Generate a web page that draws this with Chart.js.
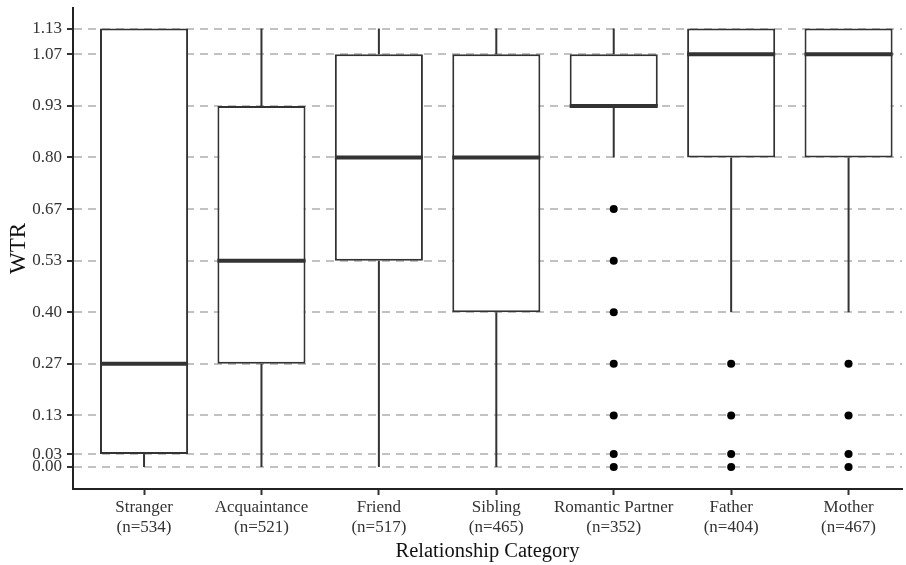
<!DOCTYPE html>
<html>
<head>
<meta charset="utf-8">
<script src="https://cdn.jsdelivr.net/npm/chart.js@4"></script>
<style>
  body { margin: 0; background: #fff; }
  canvas { display: block; }
</style>
</head>
<body>
<canvas id="myChart" width="906" height="565"></canvas>
<script>
const categories = ['Stranger', 'Acquaintance', 'Friend', 'Sibling', 'Romantic Partner', 'Father', 'Mother'];
const counts = [534, 521, 517, 465, 352, 404, 467];

const whiskerLow = [0, 0, 0, 0, 0.8, 0.4, 0.4];
const q1 = [0.0333, 0.2667, 0.5333, 0.4, 0.9333, 0.8, 0.8];
const median = [0.2667, 0.5333, 0.8, 0.8, 0.9333, 1.0667, 1.0667];
const q3 = [1.1333, 0.9333, 1.0667, 1.0667, 1.0667, 1.1333, 1.1333];
const whiskerHigh = [1.1333, 1.1333, 1.1333, 1.1333, 1.1333, 1.1333, 1.1333];

const outliers = [
    [],
    [],
    [],
    [],
    [0, 0.0333, 0.1333, 0.2667, 0.4, 0.5333, 0.6667],
    [0, 0.0333, 0.1333, 0.2667],
    [0, 0.0333, 0.1333, 0.2667]
];

const yTickValues = [0, 0.0333, 0.1333, 0.2667, 0.4, 0.5333, 0.6667, 0.8, 0.9333, 1.0667, 1.1333];
const yTickLabels = ['0.00', '0.03', '0.13', '0.27', '0.40', '0.53', '0.67', '0.80', '0.93', '1.07', '1.13'];

const serif = 'Liberation Serif';
const ink = '#333';

const boxData = categories.map((c, i) => ({x: i, y: [q1[i], q3[i]]}));
const outlierData = [];
outliers.forEach((vals, i) => vals.forEach(v => outlierData.push({x: i, y: v})));

// whiskers under the boxes, medians over them
const boxLines = {
    id: 'boxLines',
    beforeDatasetsDraw(chart) {
        const {ctx, scales: {x, y}} = chart;
        ctx.save();
        ctx.strokeStyle = ink;
        ctx.lineWidth = 2;
        categories.forEach((c, i) => {
            const px = x.getPixelForValue(i);
            ctx.beginPath();
            ctx.moveTo(px, y.getPixelForValue(whiskerLow[i]));
            ctx.lineTo(px, y.getPixelForValue(q1[i]));
            ctx.moveTo(px, y.getPixelForValue(q3[i]));
            ctx.lineTo(px, y.getPixelForValue(whiskerHigh[i]));
            ctx.stroke();
        });
        ctx.restore();
    },
    afterDatasetsDraw(chart) {
        const {ctx, scales: {x, y}} = chart;
        const bars = chart.getDatasetMeta(1).data;
        ctx.save();
        ctx.strokeStyle = ink;
        ctx.lineWidth = 4;
        categories.forEach((c, i) => {
            const px = x.getPixelForValue(i);
            const half = bars[i].width / 2;
            const py = y.getPixelForValue(median[i]);
            ctx.beginPath();
            ctx.moveTo(px - half, py);
            ctx.lineTo(px + half, py);
            ctx.stroke();
        });
        ctx.restore();
    }
};

new Chart(document.getElementById('myChart'), {
    type: 'bar',
    data: {
        datasets: [
            {
                type: 'scatter',
                data: outlierData,
                pointRadius: 4,
                pointBackgroundColor: '#000',
                pointBorderWidth: 0,
            },
            {
                data: boxData,
                backgroundColor: '#fff',
                borderColor: ink,
                borderWidth: 2,
                borderSkipped: false,
                barPercentage: 0.75,
                categoryPercentage: 1,
            }
        ]
    },
    options: {
        responsive: false,
        animation: false,
        layout: {padding: {top: 8, right: 0, bottom: 0, left: 0}},
        plugins: {legend: {display: false}, tooltip: {enabled: false}},
        scales: {
            x: {
                type: 'linear',
                min: -0.605,
                max: 6.455,
                offset: false,
                afterFit(scale) {
                    scale.height = 76;
                    scale.paddingLeft = 0;
                    scale.paddingRight = 0;
                },
                afterBuildTicks(scale) { scale.ticks = categories.map((c, i) => ({value: i})); },
                ticks: {
                    autoSkip: false,
                    maxRotation: 0,
                    padding: 3,
                    color: ink,
                    font: {family: serif, size: 17, lineHeight: 1.15},
                    callback: function(value, index) {
                        return [categories[index], '(n=' + counts[index] + ')'];
                    }
                },
                grid: {
                    offset: false,
                    drawOnChartArea: false,
                    tickLength: 6,
                    tickColor: ink,
                    tickWidth: 2
                },
                border: {color: '#222', width: 2},
                title: {
                    display: true,
                    text: 'Relationship Category',
                    color: '#111',
                    font: {family: serif, size: 20.5, lineHeight: 1.2},
                    padding: {top: 0, bottom: 1}
                }
            },
            y: {
                min: -0.0569,
                max: 1.1863,
                afterFit(scale) {
                    scale.width = 73;
                    scale.paddingTop = 0;
                    scale.paddingBottom = 0;
                },
                afterBuildTicks(scale) { scale.ticks = yTickValues.map(v => ({value: v})); },
                ticks: {
                    padding: 5,
                    color: ink,
                    font: {family: serif, size: 17},
                    callback: function(value, index) {
                        return yTickLabels[index];
                    }
                },
                grid: {
                    color: '#c2c2c2',
                    lineWidth: 2,
                    tickLength: 6,
                    tickColor: ink,
                    tickWidth: 2,
                    tickBorderDash: []
                },
                border: {color: '#222', width: 2, dash: [8, 6]},
                title: {
                    display: true,
                    text: 'WTR',
                    color: '#111',
                    font: {family: serif, size: 23, lineHeight: 1.2},
                    padding: {top: 5, bottom: 0}
                }
            }
        }
    },
    plugins: [boxLines]
});
</script>
</body>
</html>
